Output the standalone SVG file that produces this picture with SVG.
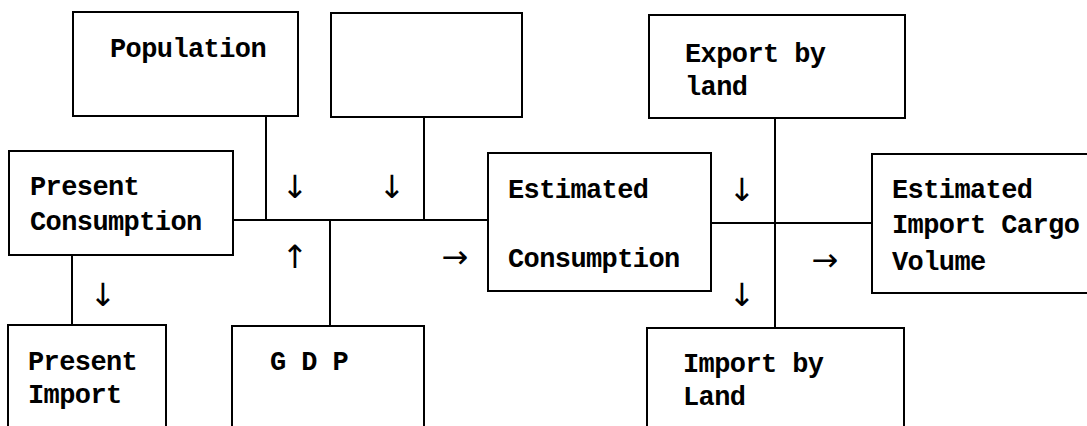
<svg xmlns="http://www.w3.org/2000/svg" width="1087" height="426" viewBox="0 0 1087 426">
  <style>
    .box { fill: #ffffff; stroke: #000000; stroke-width: 2; }
    .line { fill: none; stroke: #000000; stroke-width: 2; }
    .label { font-family: "Liberation Mono", "DejaVu Sans Mono", monospace; font-size: 27px; letter-spacing: -0.6px; font-weight: bold; fill: #000000; }
    .arrow { font-family: "DejaVu Sans", sans-serif; font-size: 32px; fill: #000000; text-anchor: middle; dominant-baseline: central; }
  </style>
  <rect width="1087" height="426" fill="#ffffff"/>

  <!-- connecting lines and direction marks -->
  <g id="connectors">
    <path class="line" d="M266 116 V220"/>
    <path class="line" d="M424 117 V220"/>
    <path class="line" d="M233 220 H488"/>
    <path class="line" d="M330 220 V326"/>
    <path class="line" d="M72 255 V325"/>
    <path class="line" d="M775 118 V328"/>
    <path class="line" d="M711 223 H872"/>
    <text class="arrow" x="295" y="187">↓</text>
    <text class="arrow" x="392" y="187">↓</text>
    <text class="arrow" x="295" y="257">↑</text>
    <text class="arrow" x="455" y="257">→</text>
    <text class="arrow" x="103" y="295">↓</text>
    <text class="arrow" x="742" y="190">↓</text>
    <text class="arrow" x="742" y="295">↓</text>
    <text class="arrow" x="825" y="260">→</text>
  </g>

  <g id="population">
    <rect class="box" x="73" y="12" width="225" height="104"/>
    <text class="label" x="110" y="57">Population</text>
  </g>

  <g id="blank-input">
    <rect class="box" x="331" y="13" width="191" height="104"/>
  </g>

  <g id="export-by-land">
    <rect class="box" x="649" y="15" width="256" height="103"/>
    <text class="label" x="685" y="62">Export by</text>
    <text class="label" x="685" y="95">land</text>
  </g>

  <g id="present-consumption">
    <rect class="box" x="9" y="151" width="224" height="104"/>
    <text class="label" x="30" y="195">Present</text>
    <text class="label" x="30" y="230">Consumption</text>
  </g>

  <g id="estimated-consumption">
    <rect class="box" x="488" y="153" width="223" height="138"/>
    <text class="label" x="508" y="198">Estimated</text>
    <text class="label" x="508" y="267">Consumption</text>
  </g>

  <g id="estimated-import-cargo-volume">
    <rect class="box" x="872" y="154" width="230" height="139"/>
    <text class="label" x="892" y="198">Estimated</text>
    <text class="label" x="892" y="233">Import Cargo</text>
    <text class="label" x="892" y="270">Volume</text>
  </g>

  <g id="present-import">
    <rect class="box" x="8" y="325" width="158" height="120"/>
    <text class="label" x="28" y="370">Present</text>
    <text class="label" x="28" y="403">Import</text>
  </g>

  <g id="gdp">
    <rect class="box" x="232" y="326" width="192" height="120"/>
    <text class="label" x="270" y="370">G D P</text>
  </g>

  <g id="import-by-land">
    <rect class="box" x="647" y="328" width="257" height="120"/>
    <text class="label" x="683" y="372">Import by</text>
    <text class="label" x="683" y="405">Land</text>
  </g>
</svg>
